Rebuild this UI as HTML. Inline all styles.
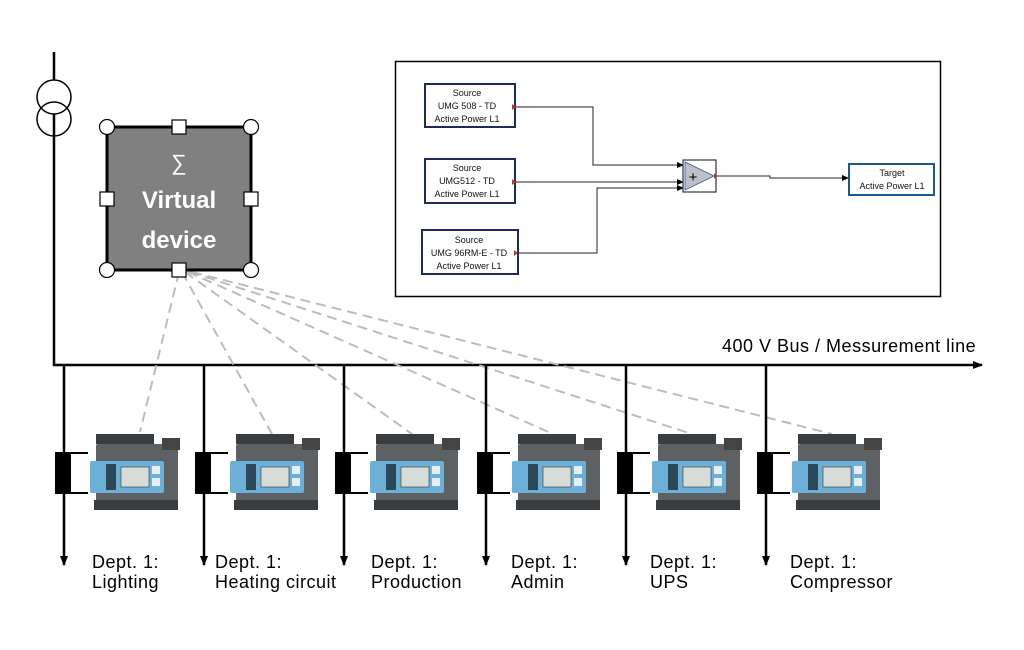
<!DOCTYPE html>
<html><head><meta charset="utf-8"><style>
body{margin:0;background:#fff}
svg{display:block}
text{font-family:"Liberation Sans",sans-serif}
</style></head><body>
<svg width="1024" height="650" viewBox="0 0 1024 650" xmlns="http://www.w3.org/2000/svg">
<defs>
<marker id="ar" markerWidth="10" markerHeight="8" refX="9" refY="4" orient="auto" markerUnits="userSpaceOnUse"><path d="M0,0 L10,4 L0,8 Z" fill="#000"/></marker>
<marker id="sa" markerWidth="7" markerHeight="6" refX="6" refY="3" orient="auto" markerUnits="userSpaceOnUse"><path d="M0,0 L7,3 L0,6 Z" fill="#000"/></marker>
<g id="dev">
  <rect x="32" y="-18" width="58" height="10" fill="#3a3d40"/>
  <rect x="32" y="-8" width="82" height="64" fill="#5d6164" rx="2"/>
  <rect x="98" y="-14" width="18" height="12" fill="#444"/>
  <rect x="26" y="9" width="74" height="32" fill="#6cb0d8" rx="2"/>
  <rect x="42" y="12" width="10" height="26" fill="#2d4858"/>
  <rect x="57" y="15" width="28" height="20" fill="#d7dcd8" stroke="#333" stroke-width="0.6"/>
  <rect x="88" y="14" width="8" height="8" fill="#e6eef2"/>
  <rect x="88" y="26" width="8" height="8" fill="#e6eef2"/>
  <rect x="30" y="48" width="84" height="10" fill="#3a3d40"/>
</g>
</defs>

<line x1="54" y1="52" x2="54" y2="366" stroke="#000" stroke-width="2.5"/>
<circle cx="54" cy="97" r="17" fill="#fff" stroke="#000" stroke-width="1.5"/>
<circle cx="54" cy="119" r="17" fill="none" stroke="#000" stroke-width="1.5"/>

<line x1="53" y1="365" x2="982" y2="365" stroke="#000" stroke-width="2.5" marker-end="url(#ar)"/>
<text x="722" y="352" font-size="18" letter-spacing="0.5">400 V Bus / Messurement line</text>

<g stroke="#bcbcbc" stroke-width="2" stroke-dasharray="10,6" fill="none">
<line x1="179" y1="272" x2="140" y2="432"/>
<line x1="182" y1="272" x2="272" y2="434"/>
<line x1="185" y1="272" x2="412" y2="434"/>
<line x1="188" y1="272" x2="553" y2="434"/>
<line x1="190" y1="272" x2="692" y2="434"/>
<line x1="192" y1="272" x2="832" y2="434"/>
</g>

<rect x="107" y="127" width="144" height="143" fill="#808080" stroke="#000" stroke-width="3"/>
<text x="179" y="170" font-size="22" fill="#fff" text-anchor="middle">∑</text>
<text x="179" y="208" font-size="24" font-weight="bold" fill="#fff" text-anchor="middle">Virtual</text>
<text x="179" y="248" font-size="24" font-weight="bold" fill="#fff" text-anchor="middle">device</text>
<g fill="#fff" stroke="#000" stroke-width="1.2">
<circle cx="107" cy="127" r="7.5"/><circle cx="251" cy="127" r="7.5"/>
<circle cx="107" cy="270" r="7.5"/><circle cx="251" cy="270" r="7.5"/>
<rect x="172" y="120" width="14" height="14"/><rect x="172" y="263" width="14" height="14"/>
<rect x="100" y="192" width="14" height="14"/><rect x="244" y="192" width="14" height="14"/>
</g>

<g stroke="#000" stroke-width="2.5">
<line x1="64" y1="365" x2="64" y2="565" marker-end="url(#ar)"/>
<line x1="204" y1="365" x2="204" y2="565" marker-end="url(#ar)"/>
<line x1="344" y1="365" x2="344" y2="565" marker-end="url(#ar)"/>
<line x1="486" y1="365" x2="486" y2="565" marker-end="url(#ar)"/>
<line x1="626" y1="365" x2="626" y2="565" marker-end="url(#ar)"/>
<line x1="766" y1="365" x2="766" y2="565" marker-end="url(#ar)"/>
</g>
<g>
<g transform="translate(64,0)"><rect x="-9" y="452" width="16" height="42"/><path d="M7,453 H24 M7,493 H24" stroke="#000" stroke-width="2"/><use href="#dev" transform="translate(0,452)"/></g>
<g transform="translate(204,0)"><rect x="-9" y="452" width="16" height="42"/><path d="M7,453 H24 M7,493 H24" stroke="#000" stroke-width="2"/><use href="#dev" transform="translate(0,452)"/></g>
<g transform="translate(344,0)"><rect x="-9" y="452" width="16" height="42"/><path d="M7,453 H24 M7,493 H24" stroke="#000" stroke-width="2"/><use href="#dev" transform="translate(0,452)"/></g>
<g transform="translate(486,0)"><rect x="-9" y="452" width="16" height="42"/><path d="M7,453 H24 M7,493 H24" stroke="#000" stroke-width="2"/><use href="#dev" transform="translate(0,452)"/></g>
<g transform="translate(626,0)"><rect x="-9" y="452" width="16" height="42"/><path d="M7,453 H24 M7,493 H24" stroke="#000" stroke-width="2"/><use href="#dev" transform="translate(0,452)"/></g>
<g transform="translate(766,0)"><rect x="-9" y="452" width="16" height="42"/><path d="M7,453 H24 M7,493 H24" stroke="#000" stroke-width="2"/><use href="#dev" transform="translate(0,452)"/></g>
</g>

<g font-size="18" letter-spacing="0.5" fill="#000">
<text x="92" y="568">Dept. 1:</text><text x="92" y="588">Lighting</text>
<text x="215" y="568">Dept. 1:</text><text x="215" y="588">Heating circuit</text>
<text x="371" y="568">Dept. 1:</text><text x="371" y="588">Production</text>
<text x="511" y="568">Dept. 1:</text><text x="511" y="588">Admin</text>
<text x="650" y="568">Dept. 1:</text><text x="650" y="588">UPS</text>
<text x="790" y="568">Dept. 1:</text><text x="790" y="588">Compressor</text>
</g>

<rect x="395.5" y="61.5" width="545" height="235" fill="#fff" stroke="#000" stroke-width="1.5"/>
<g fill="#fff" stroke="#1e2a5a" stroke-width="2">
<rect x="425" y="84" width="90" height="43"/>
<rect x="425" y="159" width="90" height="44"/>
<rect x="422" y="230" width="96" height="44"/>
<rect x="849" y="164" width="85" height="31" stroke="#1a5a8a"/>
</g>
<g font-size="9" fill="#111" text-anchor="middle">
<text x="467" y="96">Source</text><text x="467" y="109">UMG 508 - TD</text><text x="467" y="122">Active Power L1</text>
<text x="467" y="171">Source</text><text x="467" y="184">UMG512 - TD</text><text x="467" y="197">Active Power L1</text>
<text x="469" y="243">Source</text><text x="469" y="256">UMG 96RM-E - TD</text><text x="469" y="269">Active Power L1</text>
<text x="892" y="176">Target</text><text x="892" y="189">Active Power L1</text>
</g>
<g stroke="#222" stroke-width="1" fill="none">
<path d="M516,107 H593 V165 H683" marker-end="url(#sa)"/>
<path d="M516,182 H683" marker-end="url(#sa)"/>
<path d="M516,253 H597 V188 H683" marker-end="url(#sa)"/>
<path d="M716,176 H770 V178 H848" marker-end="url(#sa)"/>
</g>
<rect x="683" y="160" width="33" height="32" fill="#fff" stroke="#333" stroke-width="1.2"/>
<path d="M685,162 L714,176 L685,190 Z" fill="#c0c0c0" stroke="#3a4fb0" stroke-width="0.8"/>
<text x="693" y="182" font-size="15" fill="#000" text-anchor="middle">+</text>
<g fill="#b04020">
<path d="M512,104 l4,3 l-4,3z"/><path d="M512,179 l4,3 l-4,3z"/><path d="M514,250 l4,3 l-4,3z"/><path d="M714,173 l3,3 l-3,3z"/>
</g>
</svg>
</body></html>
